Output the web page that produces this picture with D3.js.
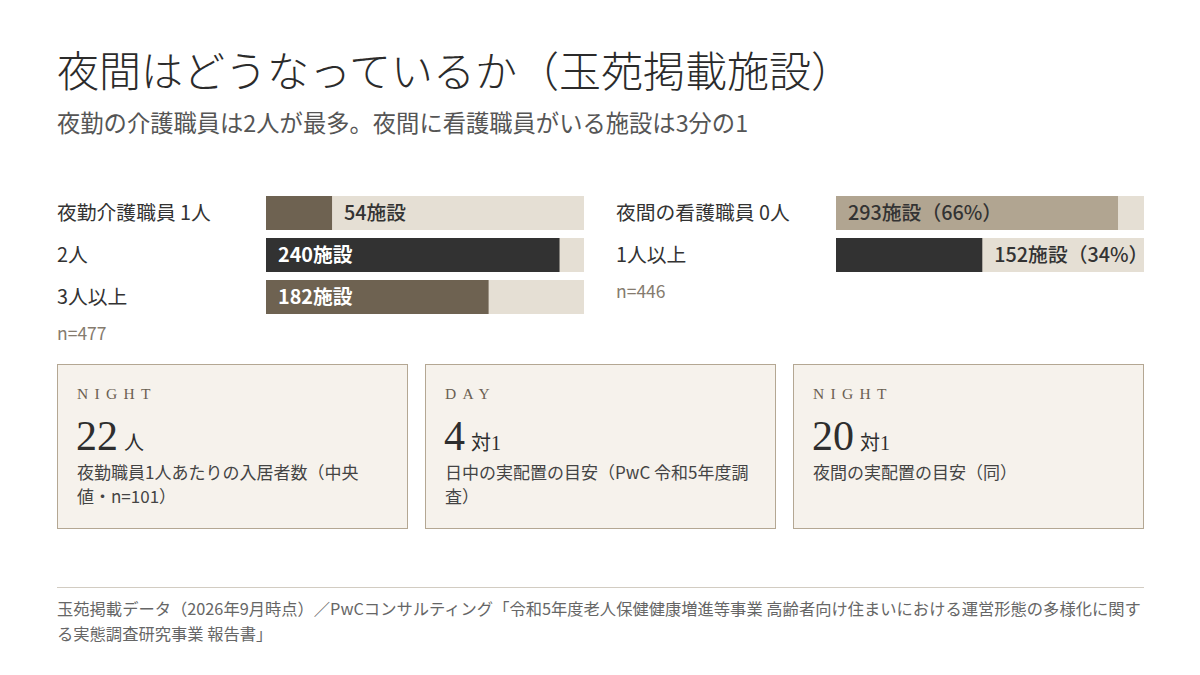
<!DOCTYPE html>
<html><head><meta charset="utf-8">
<script src="https://cdn.jsdelivr.net/npm/d3@7/dist/d3.min.js"></script>
<style>
html,body{margin:0;padding:0;background:#fff;}
svg{display:block;}
</style></head>
<body><svg id="c" width="1200" height="675"></svg>
<script>
const title = "夜間はどうなっているか（玉苑掲載施設）";
const subtitle = "夜勤の介護職員は2人が最多。夜間に看護職員がいる施設は3分の1";

const leftLabels = ["夜勤介護職員 1人", "2人", "3人以上"];
const leftValues = [54, 240, 182];
const leftValueLabels = ["54施設", "240施設", "182施設"];
const leftColors = ["#6e6251", "#323232", "#6e6251"];
const leftInside = [false, true, true];
const leftN = "n=477";

const rightLabels = ["夜間の看護職員 0人", "1人以上"];
const rightValues = [293, 152];
const rightValueLabels = ["293施設（66%）", "152施設（34%）"];
const rightColors = ["#b1a591", "#323232"];
const rightInside = [true, false];
const rightN = "n=446";

const cardTags = ["NIGHT", "DAY", "NIGHT"];
const cardValues = ["22", "4", "20"];
const cardUnits = ["人", "対1", "対1"];
const cardDescs = [
  ["夜勤職員1人あたりの入居者数（中央", "値・n=101）"],
  ["日中の実配置の目安（PwC 令和5年度調", "査）"],
  ["夜間の実配置の目安（同）"]
];

const footer = [
  "玉苑掲載データ（2026年9月時点）／PwCコンサルティング「令和5年度老人保健健康増進等事業 高齢者向け住まいにおける運営形態の多様化に関す",
  "る実態調査研究事業 報告書」"
];

const svg = d3.select("#c");
const sans = "'Noto Sans CJK JP','Noto Sans',sans-serif";
const serif = "'Liberation Serif','DejaVu Serif','Noto Sans CJK JP',serif";

svg.append("text").attr("x", 57).attr("y", 87).attr("font-family", "'Liberation Serif','Noto Sans CJK JP',serif")
  .attr("font-size", 42).attr("fill", "#2b2b2b").attr("font-weight", 300).text(title);
svg.append("text").attr("x", 57).attr("y", 132).attr("font-family", sans)
  .attr("font-size", 23.3).attr("fill", "#555").text(subtitle);

function barGroup(x0, labelX, width, domainMax, labels, values, vlabels, colors, inside, nText, y0) {
  const g = svg.append("g");
  const x = d3.scaleLinear().domain([0, domainMax]).range([x0, x0 + width]);
  const bh = 34;
  labels.forEach((lab, i) => {
    const yy = y0 + i * 42;
    g.append("text").attr("x", labelX).attr("y", yy + bh/2).attr("dy", "0.36em")
      .attr("font-family", sans).attr("font-size", 19.8).attr("fill", "#333").text(lab);
    g.append("rect").attr("x", x(0)).attr("y", yy).attr("width", x(domainMax) - x(0)).attr("height", bh).attr("fill", "#e5dfd4");
    g.append("rect").attr("x", x(0)).attr("y", yy).attr("width", x(values[i]) - x(0)).attr("height", bh).attr("fill", colors[i]);
    const light = inside[i] && colors[i] !== "#b1a591";
    const tx = inside[i] ? x(0) + 12 : x(values[i]) + 12;
    g.append("text").attr("x", tx).attr("y", yy + bh/2).attr("dy", "0.36em")
      .attr("font-family", sans).attr("font-size", 19.8).attr("font-weight", light ? 700 : 500)
      .attr("fill", light ? "#fff" : "#333").text(vlabels[i]);
  });
  g.append("text").attr("x", labelX).attr("y", y0 + 42 * labels.length + 12).attr("dy", "0.36em")
    .attr("font-family", sans).attr("font-size", 17.5).attr("fill", "#857b6e").text(nText);
}

barGroup(266, 57, 318, 260, leftLabels, leftValues, leftValueLabels, leftColors, leftInside, leftN, 196);
barGroup(836, 616, 308, 320, rightLabels, rightValues, rightValueLabels, rightColors, rightInside, rightN, 196);

const cardX = [57, 425, 793];
cardTags.forEach((tag, i) => {
  const g = svg.append("g").attr("transform", `translate(${cardX[i]},364)`);
  g.append("rect").attr("x", 0.5).attr("y", 0.5).attr("width", 350).attr("height", 164)
    .attr("fill", "#f6f2ec").attr("stroke", "#b4a793").attr("stroke-width", 1);
  g.append("text").attr("x", 20).attr("y", 35).attr("font-family", serif).attr("font-size", 15.5)
    .attr("letter-spacing", 6.3).attr("fill", "#6b6052").text(tag);
  const num = g.append("text").attr("x", 19).attr("y", 86).attr("fill", "#2e2e2e");
  num.append("tspan").attr("font-family", serif).attr("font-size", 42).text(cardValues[i]);
  num.append("tspan").attr("dx", 6).attr("font-family", "'Liberation Serif','Noto Sans CJK JP',serif").attr("font-size", 20).text(cardUnits[i]);
  cardDescs[i].forEach((line, j) => {
    g.append("text").attr("x", 20).attr("y", 115 + j * 24).attr("font-family", sans)
      .attr("font-size", 17).attr("fill", "#444").text(line);
  });
});

svg.append("line").attr("x1", 57).attr("x2", 1144).attr("y1", 587.5).attr("y2", 587.5).attr("stroke", "#d2ccc2");
footer.forEach((line, j) => {
  svg.append("text").attr("x", 57).attr("y", 615 + j * 25).attr("font-family", sans)
    .attr("font-size", 16.3).attr("fill", "#666").text(line);
});
</script></body></html>
